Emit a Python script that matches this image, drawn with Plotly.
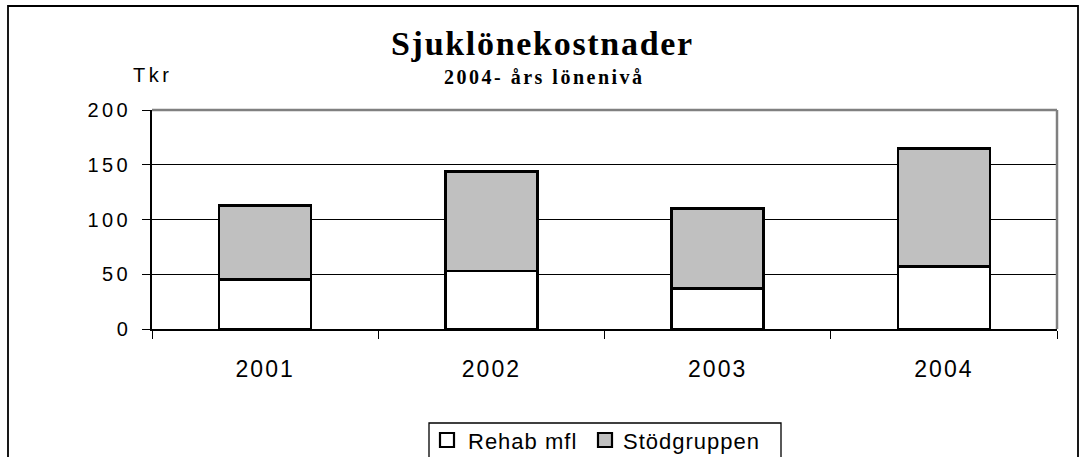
import plotly.graph_objects as go

# Sick-pay costs per year, thousand SEK (Tkr), at 2004 wage level
years = ["2001", "2002", "2003", "2004"]
rehab_mfl = [45, 53, 37, 57]
stodgruppen = [68, 91, 73, 108]
series_names = ["Rehab mfl", "Stödgruppen"]
series_colors = ["#FFFFFF", "#C0C0C0"]
y_ticks = [0, 50, 100, 150, 200]

title_text = "Sjuklönekostnader"
subtitle_text = "2004- års lönenivå"
unit_text = "Tkr"

W, H = 1080, 457
L, R, T, B = 152, 1057, 110, 329   # plot area edges in pixels


def px(x):
    return (x - L) / (R - L)


def py(y):
    return (B - y) / (B - T)


def spaced(text, sp):
    return f'<span style="letter-spacing:{sp}px">{text}</span>'


sans = "Liberation Sans, Arial, sans-serif"
serif = "Liberation Serif, Times New Roman, serif"

fig = go.Figure()
for name, vals, col in zip(series_names, [rehab_mfl, stodgruppen], series_colors):
    fig.add_trace(go.Bar(
        x=years, y=vals, name=name, width=0.407,
        marker=dict(color=col, line=dict(color="black", width=2.6)),
        showlegend=False,
    ))

fig.update_layout(
    width=W, height=H,
    margin=dict(l=L, r=W - R, t=T, b=H - B),
    paper_bgcolor="white", plot_bgcolor="white",
    barmode="stack",
    font=dict(family=sans, color="black"),
)

fig.update_xaxes(
    type="category", categoryorder="array", categoryarray=years,
    tickvals=years, ticktext=[spaced(y, 2) for y in years],
    tickson="boundaries", ticks="outside", ticklen=8, tickwidth=1, tickcolor="black",
    showline=True, linecolor="black", linewidth=1.5,
    showgrid=False, tickfont=dict(size=23, family=sans),
    ticklabelposition="outside", ticklabelstandoff=19,
)
fig.update_yaxes(
    range=[0, 200], tickvals=y_ticks, ticktext=[spaced(v, 3.5) for v in y_ticks],
    ticks="outside", ticklen=8, tickwidth=1, tickcolor="black",
    showline=True, linecolor="black", linewidth=1.5,
    showgrid=True, gridcolor="black", gridwidth=1,
    zeroline=False, tickfont=dict(size=20, family=sans),
    ticklabelposition="outside", ticklabelstandoff=7,
)

shapes = [
    # grey top and right edges of the plot area
    dict(type="line", xref="paper", yref="paper", x0=0, x1=1, y0=1, y1=1,
         line=dict(color="#808080", width=2.5)),
    dict(type="line", xref="paper", yref="paper", x0=1, x1=1, y0=0, y1=1,
         line=dict(color="#808080", width=2.5)),
    # outer chart frame
    dict(type="rect", xref="paper", yref="paper", x0=px(8), x1=px(1078), y0=py(480), y1=py(6),
         line=dict(color="black", width=1.8), fillcolor="rgba(0,0,0,0)"),
    # legend frame
    dict(type="rect", xref="paper", yref="paper", x0=px(429), x1=px(781), y0=py(480), y1=py(423),
         line=dict(color="black", width=1.3), fillcolor="rgba(0,0,0,0)"),
]

annotations = [
    dict(text=spaced(f"<b>{title_text}</b>", 1.7), x=px(542), y=py(44), xref="paper", yref="paper",
         xanchor="center", yanchor="middle", showarrow=False, font=dict(family=serif, size=34)),
    dict(text=spaced(f"<b>{subtitle_text}</b>", 2.5), x=px(544), y=py(77), xref="paper", yref="paper",
         xanchor="center", yanchor="middle", showarrow=False, font=dict(family=serif, size=20)),
    dict(text=spaced(unit_text, 3.5), x=px(131), y=py(75), xref="paper", yref="paper",
         xanchor="left", yanchor="middle", showarrow=False, font=dict(family=sans, size=20)),
]

# legend: swatch + label per series
legend_swatch_x = [440, 598]
legend_text_x = [466, 621]
for name, col, sx, tx in zip(series_names, series_colors, legend_swatch_x, legend_text_x):
    shapes.append(dict(type="rect", xref="paper", yref="paper", x0=px(sx), x1=px(sx + 14),
                       y0=py(447), y1=py(433), line=dict(color="black", width=2.2), fillcolor=col))
    annotations.append(dict(text=spaced(name, 1), x=px(tx), y=py(441), xref="paper", yref="paper",
                            xanchor="left", yanchor="middle", showarrow=False,
                            font=dict(family=sans, size=22)))

fig.update_layout(shapes=shapes, annotations=annotations)
fig.write_html("out.html")
